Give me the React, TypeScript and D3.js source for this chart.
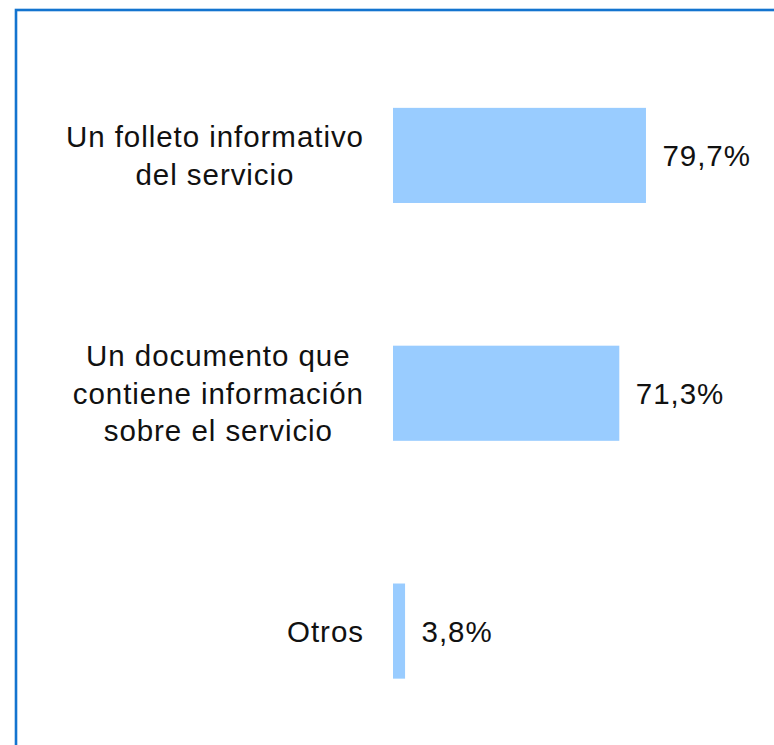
import React from "react";
import * as d3 from "d3";

const categories = [
  "Un folleto informativo del servicio",
  "Un documento que contiene información sobre el servicio",
  "Otros",
];
const categoryLines = [
  ["Un folleto informativo", "del servicio"],
  ["Un documento que", "contiene información", "sobre el servicio"],
  ["Otros"],
];
const values = [79.7, 71.3, 3.8];
const valueLabels = ["79,7%", "71,3%", "3,8%"];

const W = 774;
const H = 745;
const FONT = "'Liberation Sans', Arial, sans-serif";
const LS = 0.95;

export default function App() {
  const x = d3.scaleLinear().domain([0, 100]).range([393, 710.4]);
  const y = d3
    .scaleBand<string>()
    .domain(categories)
    .range([36.5, 750])
    .paddingInner(0.6)
    .paddingOuter(0.3);

  const fs = 29.5;
  const lh = 37.5;
  const capShift = 0.358 * fs;

  return (
    <svg
      width={W}
      height={H}
      style={{ position: "absolute", left: 0, top: 0, background: "#fff" }}
      fontFamily={FONT}
    >
      <rect x={16} y={10} width={900} height={900} fill="#fff" stroke="#1374cf" strokeWidth={2.6} />
      {categories.map((c, i) => {
        const y0 = y(c)!;
        const cy = y0 + y.bandwidth() / 2;
        const lines = categoryLines[i];
        const n = lines.length;
        return (
          <g key={c}>
            <rect
              x={x(0)}
              y={y0}
              width={x(values[i]) - x(0)}
              height={y.bandwidth()}
              fill="#99ccff"
            />
            <text
              x={x(values[i]) + 16.5}
              y={cy + capShift}
              fontSize={fs}
              letterSpacing={LS}
              fill="#111"
            >
              {valueLabels[i]}
            </text>
            <LabelBlock lines={lines} right={363} cy={cy} fs={fs} lh={lh} capShift={capShift} n={n} />
          </g>
        );
      })}
    </svg>
  );
}

function measure(ctx: CanvasRenderingContext2D | null, s: string, fs: number) {
  if (!ctx) return s.length * fs * 0.5;
  return ctx.measureText(s).width + (s.length - 1) * LS;
}

function LabelBlock({ lines, right, cy, fs, lh, capShift, n }: any) {
  const ctx = (typeof document !== "undefined"
    ? document.createElement("canvas").getContext("2d")
    : null) as CanvasRenderingContext2D | null;
  if (ctx) ctx.font = `${fs}px ${FONT}`;
  const widths = lines.map((l: string) => measure(ctx, l, fs));
  const maxW = Math.max(...widths);
  const centerX = right - maxW / 2;
  const firstBase = cy + capShift - ((n - 1) * lh) / 2;
  return (
    <g>
      {lines.map((l: string, j: number) => (
        <text
          key={j}
          x={centerX - widths[j] / 2}
          y={firstBase + j * lh}
          fontSize={fs}
          letterSpacing={LS}
          fill="#111"
        >
          {l}
        </text>
      ))}
    </g>
  );
}
